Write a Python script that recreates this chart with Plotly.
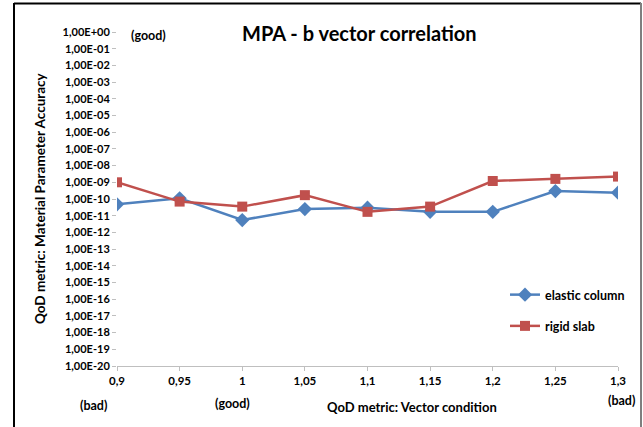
import plotly.graph_objects as go

x_vals = [0.9, 0.95, 1.0, 1.05, 1.1, 1.15, 1.2, 1.25, 1.3]
x_ticktext = ["0,9", "0,95", "1", "1,05", "1,1", "1,15", "1,2", "1,25", "1,3"]

elastic_column = [4.8e-11, 1.1e-10, 5.5e-12, 2.5e-11, 3.0e-11, 1.7e-11, 1.7e-11, 3.0e-10, 2.4e-10]
rigid_slab = [1.0e-9, 7.0e-11, 3.5e-11, 1.7e-10, 1.7e-11, 3.5e-11, 1.2e-9, 1.6e-9, 2.2e-9]

y_tickvals = [1e0, 1e-1, 1e-2, 1e-3, 1e-4, 1e-5, 1e-6, 1e-7, 1e-8, 1e-9, 1e-10,
              1e-11, 1e-12, 1e-13, 1e-14, 1e-15, 1e-16, 1e-17, 1e-18, 1e-19, 1e-20]
y_ticktext = ["1,00E+00", "1,00E-01", "1,00E-02", "1,00E-03", "1,00E-04", "1,00E-05",
              "1,00E-06", "1,00E-07", "1,00E-08", "1,00E-09", "1,00E-10", "1,00E-11",
              "1,00E-12", "1,00E-13", "1,00E-14", "1,00E-15", "1,00E-16", "1,00E-17",
              "1,00E-18", "1,00E-19", "1,00E-20"]

FONT = "Lato"
BLUE = "#4F81BD"
RED = "#C0504D"

fig = go.Figure()
fig.add_trace(go.Scatter(
    x=x_vals, y=elastic_column, name="elastic column", mode="lines+markers",
    line=dict(color=BLUE, width=2.5), marker=dict(symbol="diamond", size=11, color=BLUE),
    legendgroup="a"))
fig.add_trace(go.Scatter(
    x=x_vals, y=rigid_slab, name="rigid slab", mode="lines+markers",
    line=dict(color=RED, width=2.5), marker=dict(symbol="square", size=10, color=RED),
    legendgroup="b"))

W, H = 643, 427
L, R, T = 117, 25, 32
B = H - 366
pw, ph = W - L - R, H - T - B

def px(xp):
    return (xp - L) / pw

def py(yp):
    return (H - B - yp) / ph

fig.update_layout(
    width=W, height=H,
    margin=dict(l=L, r=R, t=T, b=B, pad=0),
    paper_bgcolor="white", plot_bgcolor="white",
    font=dict(family=FONT, color="black", size=11),
    showlegend=True,
    legend=dict(x=px(505), y=py(280), xanchor="left", yanchor="top",
                font=dict(family=FONT, size=12.5, weight="bold"),
                traceorder="grouped", tracegroupgap=12, itemwidth=30,
                bgcolor="rgba(0,0,0,0)"),
    xaxis=dict(range=[0.9, 1.3], tickvals=x_vals, ticktext=x_ticktext,
               showgrid=False, zeroline=False, showline=True, linecolor="#BFBFBF",
               linewidth=1, ticks="outside", ticklen=4, tickcolor="#BFBFBF",
               tickfont=dict(family=FONT, size=11.5, weight="bold")),
    yaxis=dict(type="log", range=[-20, 0], tickvals=y_tickvals, ticktext=y_ticktext,
               showgrid=False, zeroline=False, showline=False, ticks="outside",
               ticklen=4, tickcolor="#BFBFBF",
               tickfont=dict(family=FONT, size=11, weight="bold")),
)

annotations = [
    dict(text="<b>MPA - b vector correlation</b>", x=px(359), y=py(33), size=20),
    dict(text="<b>QoD metric: Material Parameter Accuracy</b>", x=px(40), y=py(198), size=13.5, angle=-90),
    dict(text="<b>QoD metric: Vector condition</b>", x=px(412), y=py(407), size=13),
    dict(text="<b>(good)</b>", x=px(148), y=py(35), size=12.5),
    dict(text="<b>(bad)</b>", x=px(93), y=py(405), size=12.5),
    dict(text="<b>(good)</b>", x=px(232), y=py(404), size=12.5),
    dict(text="<b>(bad)</b>", x=px(621), y=py(400), size=12.5),
]
for a in annotations:
    fig.add_annotation(text=a["text"], x=a["x"], y=a["y"], xref="paper", yref="paper",
                       xanchor="center", yanchor="middle", showarrow=False,
                       textangle=a.get("angle", 0),
                       font=dict(family=FONT, size=a["size"], color="black"))

# outer chart border
fig.add_shape(type="line", xref="paper", yref="paper", x0=px(14), x1=px(14), y0=py(3), y1=py(440),
              line=dict(color="black", width=2))
fig.add_shape(type="line", xref="paper", yref="paper", x0=px(14), x1=px(641), y0=py(3.5), y1=py(3.5),
              line=dict(color="black", width=2))
fig.add_shape(type="line", xref="paper", yref="paper", x0=px(641), x1=px(641), y0=py(3), y1=py(440),
              line=dict(color="#7F7F7F", width=2))

fig.write_html("out.html", config={"displayModeBar": False},
               post_script="document.body.style.margin='0';document.body.style.overflow='hidden';")
